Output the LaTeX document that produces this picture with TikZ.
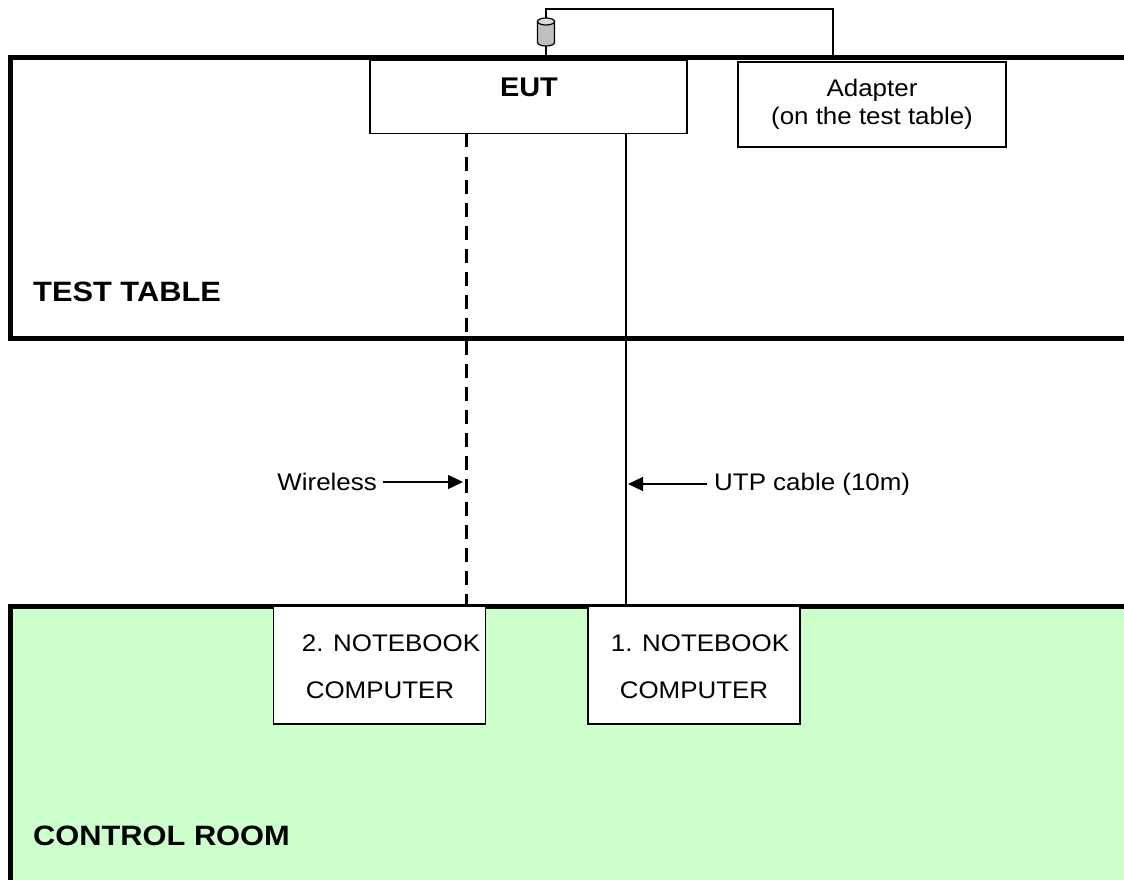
\documentclass[tikz,border=0pt]{standalone}
\usepackage{fontspec}
\usepackage{graphicx}
\setmainfont{Liberation Sans}
\usetikzlibrary{arrows.meta}
\definecolor{roomgreen}{HTML}{CCFFCC}
\newcommand{\widetxt}[1]{\scalebox{1.08}[1]{#1}}
\begin{document}
\begin{tikzpicture}[x=1pt,y=-1pt,
  room/.style={line width=5pt},
  devbox/.style={draw,line width=1.4pt,fill=white,inner sep=0pt},
  wire/.style={line width=1.4pt},
  lbl/.style={font=\fontsize{24}{28}\selectfont,inner sep=0pt},
  roomlbl/.style={font=\fontsize{28}{32}\selectfont\bfseries,inner sep=0pt,anchor=west},
  tip/.style={-{Triangle[length=15pt,width=14pt]}}]
\useasboundingbox (0,0) rectangle (1124,880);
% test table
\draw[room] (1130,58) -- (10,58) -- (10,338) -- (1130,338);
% control room
\fill[roomgreen] (10,606) rectangle (1130,890);
\draw[room] (1130,606) -- (10,606) -- (10,890);
\node[roomlbl] (tt) at (33,292) {\scalebox{1.1}[1]{TEST TABLE}};
\node[roomlbl] (cr) at (33,836) {\scalebox{1.1}[1]{CONTROL ROOM}};
% boxes
\node[devbox,minimum width=317pt,minimum height=73pt] (eut) at (528.5,97) {};
\node[lbl,font=\fontsize{27}{30}\selectfont\bfseries] (eutt) at (529,87.5) {\scalebox{1.07}[1]{EUT}};
\node[devbox,minimum width=268pt,minimum height=85pt] (adp) at (872,104.5) {};
\node[lbl] (adpt1) at (872,90) {\widetxt{Adapter}};
\node[lbl] (adpt2) at (872,118) {\widetxt{(on the test table)}};
\node[devbox,minimum width=212pt,minimum height=118pt] (nb2) at (379.5,665) {};
\node[lbl] (nb2a) at (391,643.5) {\widetxt{2. NOTEBOOK}};
\node[lbl] (nb2b) at (380,690) {\widetxt{COMPUTER}};
\node[devbox,minimum width=212pt,minimum height=118pt] (nb1) at (694,665) {};
\node[lbl] (nb1a) at (700,643.5) {\widetxt{1. NOTEBOOK}};
\node[lbl] (nb1b) at (694,690) {\widetxt{COMPUTER}};
% cylinder plug
\coordinate (plugtop) at (546,18);
\coordinate (plugbot) at (546,46);
\filldraw[line width=1.2pt,fill=gray!50] (537.5,21.5) -- (537.5,42.5) arc[start angle=180,end angle=0,x radius=8.5,y radius=3.5] -- (554.5,21.5) -- cycle;
\filldraw[line width=1.2pt,fill=gray!30] (546,21.5) ellipse[x radius=8.5,y radius=3.5];
\coordinate (pt1) at (546,9);
\coordinate (pt2) at (833,9);
\coordinate (pt3) at (833,58);
\coordinate (pb) at (546,58);
\draw[wire] (plugtop) -- (pt1) -- (pt2) -- (pt3);
\draw[wire] (plugbot) -- (pb);
% cables
\coordinate (wtop) at (466,133.5);
\coordinate (wbot) at (466,606);
\draw[line width=3pt,dash pattern=on 14pt off 9pt] (wtop) -- (wbot);
\coordinate (utop) at (626,133.5);
\coordinate (ubot) at (626,606);
\draw[wire] (utop) -- (ubot);
% labels with arrows
\node[lbl,anchor=east] (wl) at (377,482) {\widetxt{Wireless}};
\coordinate (ws) at (383,482);
\coordinate (wa) at (463,482);
\draw[wire,tip] (ws) -- (wa);
\node[lbl,anchor=west] (ul) at (714,484) {\widetxt{UTP cable (10m)}};
\coordinate (us) at (707,484);
\coordinate (ua) at (628,484);
\draw[wire,tip] (us) -- (ua);
\end{tikzpicture}
\end{document}
